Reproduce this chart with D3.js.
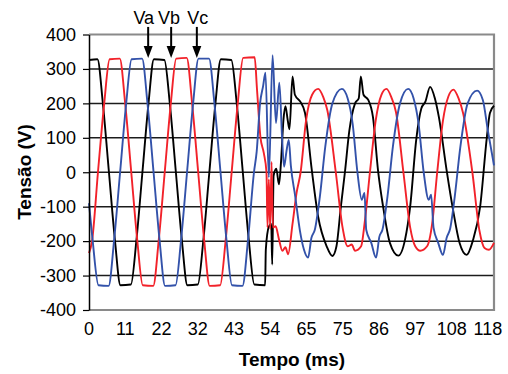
<!DOCTYPE html>
<html lang="pt">
<head>
<meta charset="UTF-8">
<title>Tensão x Tempo</title>
<script src="https://d3js.org/d3.v7.min.js"></script>
<style>
  body { margin: 0; background: #fff; }
  svg { display: block; font-family: "Liberation Sans", Arial, sans-serif; }
  .tick-label { font-size: 18px; fill: #000; }
  .axis-title { font-size: 19px; font-weight: bold; fill: #000; }
</style>
</head>
<body>
<svg width="508" height="374"></svg>
<script>
// tempo (ms) e tensão (V)
const va = [[0,326],[2.5,328],[4.1,200],[5.9,0],[7.7,-200],[9.3,-328],[12.4,-326],[14.0,-200],[15.8,0],[17.6,200],[19.2,328],
  [22.3,326],[23.9,200],[25.7,0],[27.5,-200],[29.1,-328],[32.2,-326],[33.8,-200],[35.6,0],[37.4,200],[39.0,328],
  [42.1,326],[43.7,200],[45.5,0],[47.3,-200],[48.9,-326],[52.1,-328],[52.3,-225],[53.2,-158],[53.9,-150],[54.2,-268],
  [54.6,-10],[55.4,10],[56.2,-35],[56.8,30],[57.5,150],[58.1,192],[58.8,150],[59.3,125],[60.2,278],[60.9,225],[62.5,205],
  [63.9,172],[65.9,7],[67.8,-130],[70.3,-215],[72,-243],[73.2,-215],[74.5,-100],[75.7,0],[77,120],[78.7,200],[79.8,215],
  [80.4,278],[81.2,225],[82.6,210],[84,160],[85.5,5],[87,-100],[89,-205],[91.5,-242],[93.5,-195],[95,-100],[96.8,95],
  [98.3,185],[99.5,205],[100.9,248],[102.3,215],[103.5,160],[105.8,5],[107.7,-110],[109.6,-205],[111.7,-240],[113.5,-200],
  [115.7,-100],[117.7,103],[118.6,172],[119.8,193]];

const vb = [[0,-235],[0.9,-200],[2.65,0],[4.5,200],[6.1,328],[9.1,330],[10.7,200],[12.5,0],[14.3,-200],[15.9,-328],
  [19.0,-330],[20.6,-200],[22.4,0],[24.2,200],[25.8,330],[28.9,332],[30.5,200],[32.3,0],[34.1,-200],[35.7,-330],
  [38.8,-328],[40.4,-200],[42.2,0],[44.0,200],[45.6,332],[49.0,334],[49.7,240],[50.7,103],[51.7,56],[52.5,0],
  [52.8,-160],[53.2,-20],[53.6,-165],[54.0,30],[54.4,-160],[55.2,-157],[56.2,-195],[57.2,-228],[58.1,-218],[58.9,-238],
  [60.2,-150],[61.4,-60],[62.6,0],[64.2,150],[66,225],[67.8,242],[69.3,218],[70.5,180],[73,0],[75,-160],[76.5,-215],
  [77.7,-210],[78.7,-228],[80.5,-215],[81.5,-150],[83.1,0],[84.8,150],[86.5,225],[88,242],[89.5,216],[90.8,175],[93,0],
  [95,-160],[96.5,-215],[98,-228],[100,-215],[101.5,-150],[103,0],[104.7,150],[106.3,220],[107.8,240],[109.3,215],
  [110.7,170],[113.4,0],[115.5,-170],[117,-220],[118.3,-225],[119.8,-205]];

const vc = [[0,-90],[1.1,-200],[2.8,-328],[5.8,-330],[7.4,-200],[9.2,0],[11.0,200],[12.6,328],[15.7,330],[17.3,200],
  [19.1,0],[20.9,-200],[22.5,-330],[25.6,-328],[27.2,-200],[29.0,0],[30.8,200],[32.4,330],[35.5,330],[37.1,200],
  [38.9,0],[40.7,-200],[42.3,-328],[45.4,-330],[47.0,-200],[48.8,0],[49.6,60],[50.6,200],[51.5,250],[52.2,289],
  [53.2,-15],[54.3,340],[55.3,143],[56.3,260],[57.1,103],[57.7,16],[58.4,60],[59.1,94],[59.7,20],[61,-70],[62.4,-170],
  [63.6,-225],[64.8,-248],[65.8,-190],[66.8,-167],[68.3,-70],[69.9,75],[72,200],[74.8,242],[76.5,215],[78,140],
  [79.4,0],[80.7,-80],[81.5,-60],[82,-167],[83.5,-205],[84.9,-248],[85.9,-187],[86.8,-167],[88.3,-70],[89.9,75],
  [92,200],[94.4,242],[96,215],[97.5,140],[99,0],[100.5,-80],[101.2,-65],[101.9,-160],[103.3,-205],[104.7,-240],
  [105.8,-190],[106.8,-165],[108.2,-70],[109.8,70],[112,200],[114.8,237],[116.5,210],[118,120],[119.8,20]];

const xTickLabels = ["0","11","22","32","43","54","65","75","86","97","108","118"];
const yTicks = [-400,-300,-200,-100,0,100,200,300,400];
const gridValues = [-300,-200,-100,0,100,200,300];

const seriesNames = ["Va","Vb","Vc"];
const arrowTimes = [17.5, 24.3, 31.9];
const labelTimes = [16.2, 23.7, 32.2];

const series = [
  { name: "Va", values: va, color: "#000000" },
  { name: "Vb", values: vb, color: "#f2222a" },
  { name: "Vc", values: vc, color: "#3352aa" }
];

const svg = d3.select("svg");
const x0 = 89, x1 = 494, yTop = 34.5, yBot = 310;

const x = d3.scaleLinear().domain([0, 119.8]).range([x0, x1]);
const y = d3.scaleLinear().domain([-400, 400]).range([yBot, yTop]);

// grade
svg.append("g").selectAll("line")
  .data(gridValues)
  .enter().append("line")
  .attr("x1", x0).attr("x2", x1)
  .attr("y1", d => y(d)).attr("y2", d => y(d))
  .attr("stroke", "#1c1c1c").attr("stroke-width", 1.5);

// moldura cinza
svg.append("path")
  .attr("d", `M${x0},${y(400)}H${x1}V${y(-400)}H${x0}`)
  .attr("fill", "none").attr("stroke", "#8a8a8a").attr("stroke-width", 2.2);

// curvas
const line = d3.line()
  .x(d => x(d[0]))
  .y(d => y(d[1]))
  .curve(d3.curveMonotoneX);

svg.append("g").selectAll("path")
  .data(series)
  .enter().append("path")
  .attr("fill", "none")
  .attr("stroke", d => d.color)
  .attr("stroke-width", 1.9)
  .attr("stroke-linejoin", "round")
  .attr("d", d => line(d.values));

// eixo Y
const yAxis = svg.append("g")
  .attr("transform", `translate(${x0},0)`)
  .call(d3.axisLeft(y).tickValues(yTicks).tickFormat(d => String(d)).tickSize(6).tickSizeOuter(0).tickPadding(7));
yAxis.select(".domain").attr("stroke", "#000").attr("stroke-width", 1.5);
yAxis.selectAll(".tick line").attr("stroke", "#000").attr("stroke-width", 1.2);
yAxis.selectAll(".tick text")
  .attr("class", "tick-label")
  .attr("font-family", null).attr("font-size", null);

// rótulos do eixo X (categorias)
const xStep = 118 / (xTickLabels.length - 1);
svg.append("g").selectAll("text")
  .data(xTickLabels)
  .enter().append("text")
  .attr("class", "tick-label")
  .attr("x", (d, i) => x(i * xStep))
  .attr("y", 335)
  .attr("text-anchor", "middle")
  .text(d => d);

// títulos
svg.append("text")
  .attr("class", "axis-title")
  .attr("x", 292).attr("y", 366)
  .attr("text-anchor", "middle")
  .text("Tempo (ms)");

svg.append("text")
  .attr("class", "axis-title")
  .attr("transform", "rotate(-90)")
  .attr("x", -172).attr("y", 31)
  .attr("text-anchor", "middle")
  .text("Tensão (V)");

// setas Va Vb Vc
seriesNames.forEach((n, i) => {
  const ax = x(arrowTimes[i]);
  const tipY = y(332), startY = y(422);
  svg.append("line")
    .attr("x1", ax).attr("x2", ax)
    .attr("y1", startY).attr("y2", tipY - 10)
    .attr("stroke", "#000").attr("stroke-width", 2);
  svg.append("path")
    .attr("d", `M${ax - 4.5},${tipY - 12}L${ax + 4.5},${tipY - 12}L${ax},${tipY}Z`)
    .attr("fill", "#000");
  svg.append("text")
    .attr("class", "tick-label")
    .attr("x", x(labelTimes[i]))
    .attr("y", y(430))
    .attr("text-anchor", "middle")
    .text(n);
});
</script>
</body>
</html>
